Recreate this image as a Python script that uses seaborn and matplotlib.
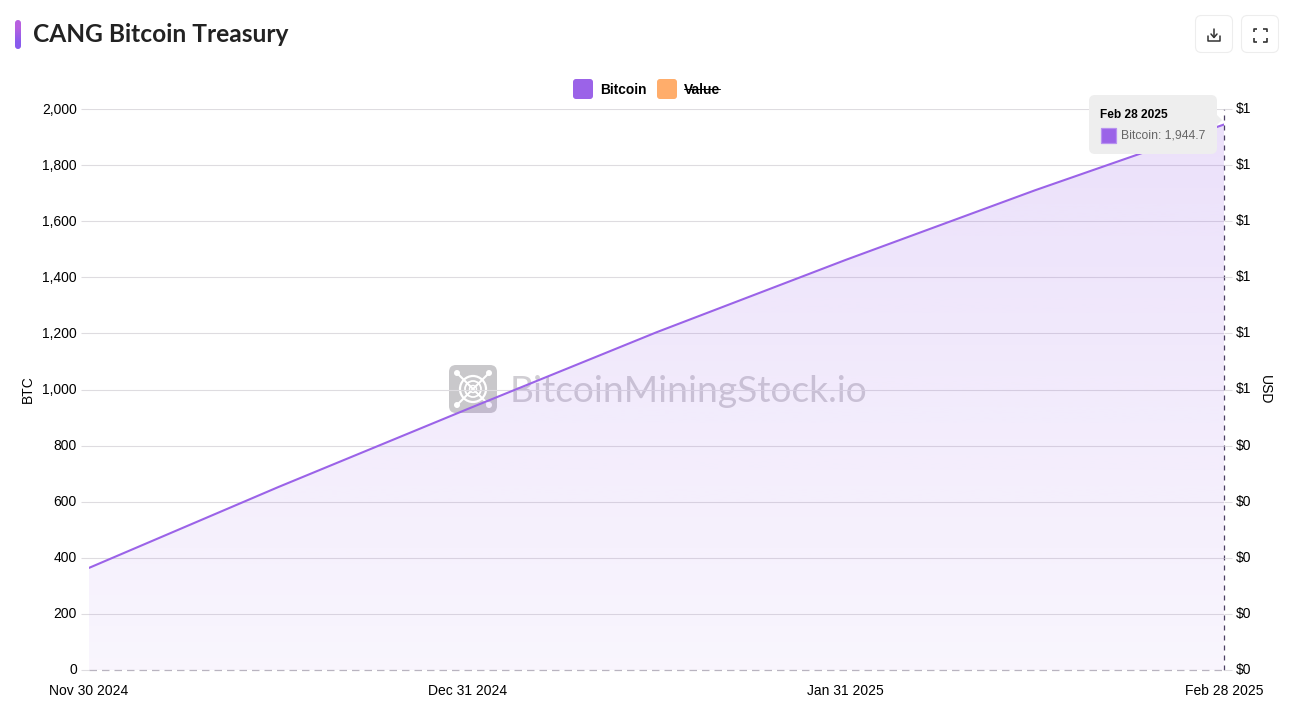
import numpy as np
import pandas as pd
import matplotlib.pyplot as plt
import seaborn as sns
from matplotlib.colors import to_rgb
from matplotlib.patches import FancyBboxPatch, Circle, Polygon
from matplotlib.transforms import ScaledTranslation

# =============================================================
# DATA
# =============================================================
dates   = ['Nov 30 2024', 'Dec 15 2024', 'Dec 31 2024', 'Jan 15 2025',
           'Jan 31 2025', 'Feb 14 2025', 'Feb 28 2025']
bitcoin = [364, 652, 930, 1204, 1462, 1710, 1944.7]

x_tick_labels = ['Nov 30 2024', 'Dec 31 2024', 'Jan 31 2025', 'Feb 28 2025']
y_ticks       = [0, 200, 400, 600, 800, 1000, 1200, 1400, 1600, 1800, 2000]
usd_labels    = ['$0', '$0', '$0', '$0', '$0', '$1', '$1', '$1', '$1', '$1', '$1']

PURPLE = '#9B63E8'
ORANGE = '#FFAD6B'
GRID   = '#DEDCE0'

sns.set_theme(style='white')
plt.rcParams['font.family'] = ['Liberation Sans', 'DejaVu Sans']

W, H = 1293, 714
fig = plt.figure(figsize=(W / 100, H / 100), dpi=100, facecolor='white')
ax = fig.add_axes([89 / W, 1 - 670 / H, (1224 - 89) / W, (670 - 109) / H],
                  facecolor='none', zorder=5)

# =============================================================
# MAIN CHART
# =============================================================
df = pd.DataFrame({'date': dates, 'bitcoin': bitcoin})
sns.lineplot(data=df, x='date', y='bitcoin', color=PURPLE, linewidth=1.5,
             sort=False, ax=ax, zorder=3)
idx = np.arange(len(dates))

# gradient under the line
rgb = to_rgb(PURPLE)
grad = np.zeros((256, 1, 4))
grad[..., :3] = rgb
grad[..., 3] = np.linspace(0.20, 0.06, 256)[:, None]
im = ax.imshow(grad, extent=(idx[0], idx[-1], 0, 2000), aspect='auto',
               origin='upper', zorder=2)
clip = ax.fill_between(idx, 0, bitcoin, color='none')
im.set_clip_path(clip.get_paths()[0], transform=ax.transData)
ax.set_xlim(idx[0], idx[-1])
ax.set_ylim(0, 2000)

ax.set_yticks(y_ticks)
ax.set_yticklabels([f'{v:,}' for v in y_ticks])
ax.set_xticks(idx[::2])
ax.set_xticklabels(x_tick_labels)
ax.grid(axis='y', color=GRID, linewidth=0.8, zorder=1)
ax.tick_params(axis='y', length=5.8, width=0.8, color=GRID, pad=3,
               labelsize=10, labelcolor='black', left=True)
ax.tick_params(axis='x', length=0, pad=10, labelsize=10, labelcolor='black')
ax.set_xlabel('')
ax.set_ylabel('BTC', fontsize=10, color='black')
ax.yaxis.set_label_coords((35 - 89) / 1135, 0.5)
for s in ax.spines.values():
    s.set_visible(False)

# crosshair lines at the hovered point
ax.axvline(idx[-1], color='#4B3F63', linewidth=0.9, linestyle=(0, (4, 4)),
           zorder=4, clip_on=False)
ax.axhline(0, color='#B9B4C0', linewidth=0.9, linestyle=(0, (6, 4)),
           zorder=4, clip_on=False)

# right axis, its values are hidden in the legend
ax2 = ax.twinx()
ax2.set_ylim(0, 2000)
ax2.set_yticks(y_ticks)
ax2.set_yticklabels(usd_labels)
ax2.grid(False)
ax2.tick_params(axis='y', length=5.8, width=0.8, color=GRID, pad=3,
                labelsize=10, labelcolor='black', right=True)
ax2.set_ylabel('USD', fontsize=10, color='black', rotation=270)
ax2.yaxis.set_label_coords((1272 - 89) / 1135, 0.5)
for s in ax2.spines.values():
    s.set_visible(False)

# nudge the tick labels up a pixel
for a, dy in ((ax, 1), (ax2, 1.5)):
    for lab in a.get_yticklabels():
        lab.set_transform(lab.get_transform()
                          + ScaledTranslation(0, dy / 100, fig.dpi_scale_trans))

# =============================================================
# PAGE DECORATION, IN PIXELS
# =============================================================
back = fig.add_axes([0, 0, 1, 1], facecolor='none', zorder=1)
ov = fig.add_axes([0, 0, 1, 1], facecolor='none', zorder=10)
for a in (back, ov):
    a.set_xlim(0, W)
    a.set_ylim(H, 0)
    a.axis('off')


def rbox(target, x0, y0, x1, y1, r, **kw):
    p = FancyBboxPatch((x0, y0), x1 - x0, y1 - y0,
                       boxstyle=f'round,pad=0,rounding_size={r}', **kw)
    target.add_patch(p)
    return p


# title with accent bar
bar = rbox(ov, 15, 20, 21, 49, 3, fc='none', ec='none')
bar_grad = ov.imshow(np.array([[[0.72, 0.38, 0.88]], [[0.54, 0.36, 0.93]]]),
                     extent=(15, 21, 49, 20), aspect='auto',
                     interpolation='bilinear', zorder=3)
bar_grad.set_clip_path(bar)
ov.set_xlim(0, W)
ov.set_ylim(H, 0)
ov.text(33, 34.5, 'CANG Bitcoin Treasury', fontsize=17.65, fontweight='bold',
        family='Lato', color='#222222', va='center', ha='left')

# buttons
rbox(ov, 1195.5, 15.5, 1232.5, 52.5, 6, fc='white', ec='#EDEDED', lw=0.8)
rbox(ov, 1241.5, 15.5, 1278.5, 52.5, 6, fc='white', ec='#EDEDED', lw=0.8)
ic = dict(color='#333333', lw=1.1, solid_capstyle='round')
ov.plot([1214, 1214], [29, 37], **ic)
ov.plot([1211, 1214, 1217], [34, 37.5, 34], **ic)
ov.plot([1208, 1208, 1220, 1220], [36, 41, 41, 36], **ic)
for cx, sx in ((1253.5, 1), (1266.5, -1)):
    for cy, sy in ((28.5, 1), (41.5, -1)):
        ov.plot([cx, cx, cx + 3.5 * sx], [cy + 3.5 * sy, cy, cy],
                color='#333333', lw=1.2, solid_capstyle='butt')

# legend
rbox(ov, 573, 79, 593, 99, 3, fc=PURPLE, ec='none')
rbox(ov, 657, 79, 677, 99, 3, fc=ORANGE, ec='none')
ov.text(600.5, 89.5, 'Bitcoin', fontsize=9.9, fontweight='bold', va='center',
        ha='left', color='black')
ov.text(684, 89.5, 'Value', fontsize=10, fontweight='bold', va='center',
        ha='left', color='black')
ov.plot([684, 720], [88.5, 88.5], color='black', lw=0.7)

# watermark, sits behind the chart
wm = '#C9C8CB'
rbox(back, 449, 365, 497, 413, 7, fc=wm, ec='none')
for sx in (-1, 1):
    for sy in (-1, 1):
        back.plot([473, 473 + 16 * sx], [389, 389 + 16 * sy], color='white',
                  lw=1.5)
        back.add_patch(Circle((473 + 16 * sx, 389 + 16 * sy), 3, fc='white',
                              ec='none'))
back.add_patch(Circle((473, 389), 13, fc=wm, ec='white', lw=1.6))
back.add_patch(Circle((473, 389), 8, fc=wm, ec='white', lw=1.3))
back.add_patch(Circle((473, 389), 3.5, fc=wm, ec='white', lw=1.0))
back.text(510, 392, 'BitcoinMiningStock.io', fontsize=26.7, family='Lato',
          color='#D0CED3', va='center', ha='left')

# tooltip
ov.add_patch(Polygon([[1217, 115], [1222, 120], [1217, 125]], fc='#EEEEEE',
                     ec='none'))
rbox(ov, 1089, 95, 1217, 154, 6, fc='#EEEEEE', ec='none')
ov.text(1100.5, 115, 'Feb 28 2025', fontsize=8.6, fontweight='bold', va='center',
        ha='left', color='black')
ov.add_patch(plt.Rectangle((1100.5, 127.5), 15, 15, fc=PURPLE, ec='#B892F0',
                           lw=0.9))
ov.text(1121, 136, 'Bitcoin: 1,944.7', fontsize=8.8, va='center', ha='left',
        color='#666666')

plt.savefig('out.png', dpi=100)
